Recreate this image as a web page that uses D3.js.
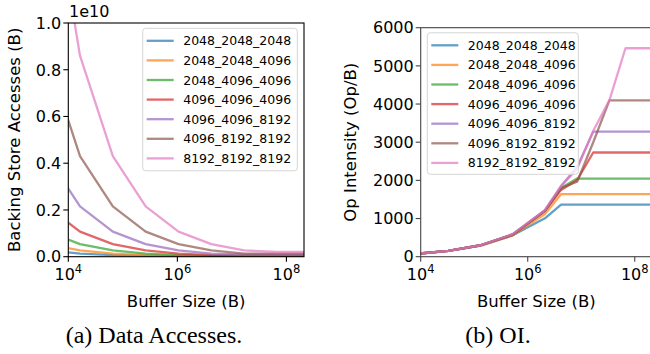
<!DOCTYPE html>
<html>
<head>
<meta charset="utf-8">
<script src="https://cdn.jsdelivr.net/npm/d3@7"></script>
<style>
  body { margin: 0; background: #fff; }
  text { font-family: "DejaVu Sans", sans-serif; fill: #000; }
  .caption { font-family: "Liberation Serif", "Times New Roman", serif; }
</style>
</head>
<body>
<svg id="chart" width="650" height="354"></svg>
<script>
// series names + colours (matplotlib tab10)
const names = ['2048_2048_2048', '2048_2048_4096', '2048_4096_4096', '4096_4096_4096',
  '4096_4096_8192', '4096_8192_8192', '8192_8192_8192'];
const colors = ['#1f77b4', '#ff7f0e', '#2ca02c', '#d62728', '#9467bd', '#8c564b', '#e377c2'];

// (a) backing store accesses, units of 1e10 B
const bufA = [4096, 16384, 65536, 262144, 1048576, 4194304, 16777216, 67108864, 268435456];
const accBlue = [0.0268, 0.0134, 0.0067, 0.0034, 0.0017, 0.0013, 0.0013, 0.0013, 0.0013];
const accOrange = [0.0537, 0.0268, 0.0134, 0.0067, 0.0034, 0.0021, 0.0021, 0.0021, 0.0021];
const accGreen = [0.107, 0.0537, 0.0268, 0.0134, 0.0067, 0.0034, 0.0034, 0.0034, 0.0034];
const accRed = [0.215, 0.107, 0.0537, 0.0268, 0.0134, 0.0067, 0.005, 0.005, 0.005];
const accPurple = [0.43, 0.215, 0.107, 0.0537, 0.0268, 0.0134, 0.0084, 0.0084, 0.0084];
const accBrown = [0.86, 0.43, 0.215, 0.107, 0.0537, 0.0268, 0.0134, 0.0134, 0.0134];
const accPink = [1.72, 0.86, 0.43, 0.215, 0.107, 0.0537, 0.0268, 0.0201, 0.0201];

// (b) op intensity, Op/B
const bufB = [8192, 32768, 131072, 524288, 2097152, 4194304, 8388608, 16777216, 33554432, 67108864, 134217728, 268435456];
const oiBlue = [75, 150, 290, 560, 1006, 1365, 1365, 1365, 1365, 1365, 1365, 1365];
const oiOrange = [75, 150, 290, 560, 1120, 1638, 1638, 1638, 1638, 1638, 1638, 1638];
const oiGreen = [75, 150, 300, 580, 1200, 1800, 2048, 2048, 2048, 2048, 2048, 2048];
const oiRed = [75, 150, 300, 580, 1200, 1750, 2009, 2730, 2730, 2730, 2730, 2730];
const oiPurple = [75, 150, 300, 590, 1220, 1850, 2350, 3277, 3277, 3277, 3277, 3277];
const oiBrown = [75, 150, 300, 580, 1200, 1800, 1965, 3000, 4096, 4096, 4096, 4096];
const oiPink = [75, 150, 300, 590, 1220, 1850, 2300, 3300, 4096, 5461, 5461, 5461];

const yTicksA = [0, 0.2, 0.4, 0.6, 0.8, 1.0];
const yTicksB = [0, 1000, 2000, 3000, 4000, 5000, 6000];
const xTicks = [1e4, 1e6, 1e8];

const accSeries = [accBlue, accOrange, accGreen, accRed, accPurple, accBrown, accPink];
const oiSeries = [oiBlue, oiOrange, oiGreen, oiRed, oiPurple, oiBrown, oiPink];

const svg = d3.select('#chart');

function panel(opts) {
  const { left, right, top, bottom, xs, series, yDomain, yTicks, yFmt, ylabel, spine, legend, caption } = opts;
  const x = d3.scaleLog().domain([1e4, 2.1e8]).range([left, right]);
  const y = d3.scaleLinear().domain(yDomain).range([bottom, top]);
  const g = svg.append('g');

  const clipId = 'clip' + Math.round(left);
  g.append('clipPath').attr('id', clipId)
    .append('rect').attr('x', left).attr('y', top).attr('width', right - left).attr('height', bottom - top);

  const line = d3.line().x(d => x(d[0])).y(d => y(d[1]));
  const lines = g.append('g').attr('clip-path', `url(#${clipId})`);
  series.forEach((vals, i) => {
    lines.append('path')
      .datum(xs.map((b, j) => [b, vals[j]]))
      .attr('d', line)
      .attr('fill', 'none')
      .attr('stroke', colors[i])
      .attr('stroke-opacity', 0.7)
      .attr('stroke-width', 2.3)
      .attr('stroke-linejoin', 'round');
  });

  // spines
  g.append('rect').attr('x', left).attr('y', top).attr('width', right - left).attr('height', bottom - top)
    .attr('fill', 'none').attr('stroke', spine).attr('stroke-width', 1.1);

  // y axis
  const yAxis = g.append('g');
  yTicks.forEach(t => {
    yAxis.append('line').attr('x1', left - 5).attr('x2', left).attr('y1', y(t)).attr('y2', y(t))
      .attr('stroke', spine).attr('stroke-width', 1.1);
    yAxis.append('text').attr('x', left - 7).attr('y', y(t)).attr('dy', '0.36em')
      .attr('text-anchor', 'end').style('font-size', '16px').text(yFmt(t));
  });

  // x axis, log ticks with superscript exponent
  const xAxis = g.append('g');
  xTicks.forEach(t => {
    xAxis.append('line').attr('x1', x(t)).attr('x2', x(t)).attr('y1', bottom).attr('y2', bottom + 5)
      .attr('stroke', spine).attr('stroke-width', 1.1);
    const lbl = xAxis.append('text').attr('x', x(t)).attr('y', bottom + 23)
      .attr('text-anchor', 'middle').style('font-size', '16px');
    lbl.append('tspan').text('10');
    lbl.append('tspan').attr('dy', -7).style('font-size', '11.5px').text(Math.round(Math.log10(t)));
  });

  g.append('text').attr('x', (left + right) / 2).attr('y', bottom + 50)
    .attr('text-anchor', 'middle').style('font-size', '16.5px').text('Buffer Size (B)');

  g.append('text')
    .attr('transform', `translate(${ylabel.x},${(top + bottom) / 2}) rotate(-90)`)
    .attr('text-anchor', 'middle').style('font-size', '16.5px').text(ylabel.text);

  // legend
  const lg = g.append('g');
  lg.append('rect').attr('x', legend.x).attr('y', legend.y).attr('width', legend.w).attr('height', legend.h)
    .attr('rx', 3).attr('fill', '#fff').attr('fill-opacity', 0.8).attr('stroke', '#d5d5d5').attr('stroke-width', 1);
  names.forEach((n, i) => {
    const cy = legend.y + 12.5 + i * 19.6;
    lg.append('line').attr('x1', legend.x + 4).attr('x2', legend.x + 31).attr('y1', cy).attr('y2', cy)
      .attr('stroke', colors[i]).attr('stroke-opacity', 0.7).attr('stroke-width', 2.3);
    lg.append('text').attr('x', legend.x + 40.5).attr('y', cy).attr('dy', '0.36em')
      .style('font-size', '12.5px').text(n);
  });

  svg.append('text').attr('class', 'caption').attr('x', caption.x).attr('y', 343)
    .attr('text-anchor', 'middle').style('font-size', '24px').text(caption.text);

  return g;
}

const gA = panel({
  left: 68.3, right: 304, top: 23, bottom: 256.7,
  xs: bufA, series: accSeries, yDomain: [0, 1], yTicks: yTicksA, yFmt: d3.format('.1f'),
  ylabel: { x: 20, text: 'Backing Store Accesses (B)' }, spine: '#000',
  legend: { x: 142.7, y: 28.3, w: 154.6, h: 142.5 },
  caption: { x: 154, text: '(a) Data Accesses.' }
});
gA.append('text').attr('x', 69).attr('y', 17).style('font-size', '16px').text('1e10');

panel({
  left: 420.7, right: 652, top: 27.7, bottom: 256.7,
  xs: bufB, series: oiSeries, yDomain: [0, 6000], yTicks: yTicksB, yFmt: d3.format('d'),
  ylabel: { x: 356, text: 'Op Intensity (Op/B)' }, spine: '#444',
  legend: { x: 427.3, y: 32.8, w: 151, h: 141.5 },
  caption: { x: 498, text: '(b) OI.' }
});
</script>
</body>
</html>
